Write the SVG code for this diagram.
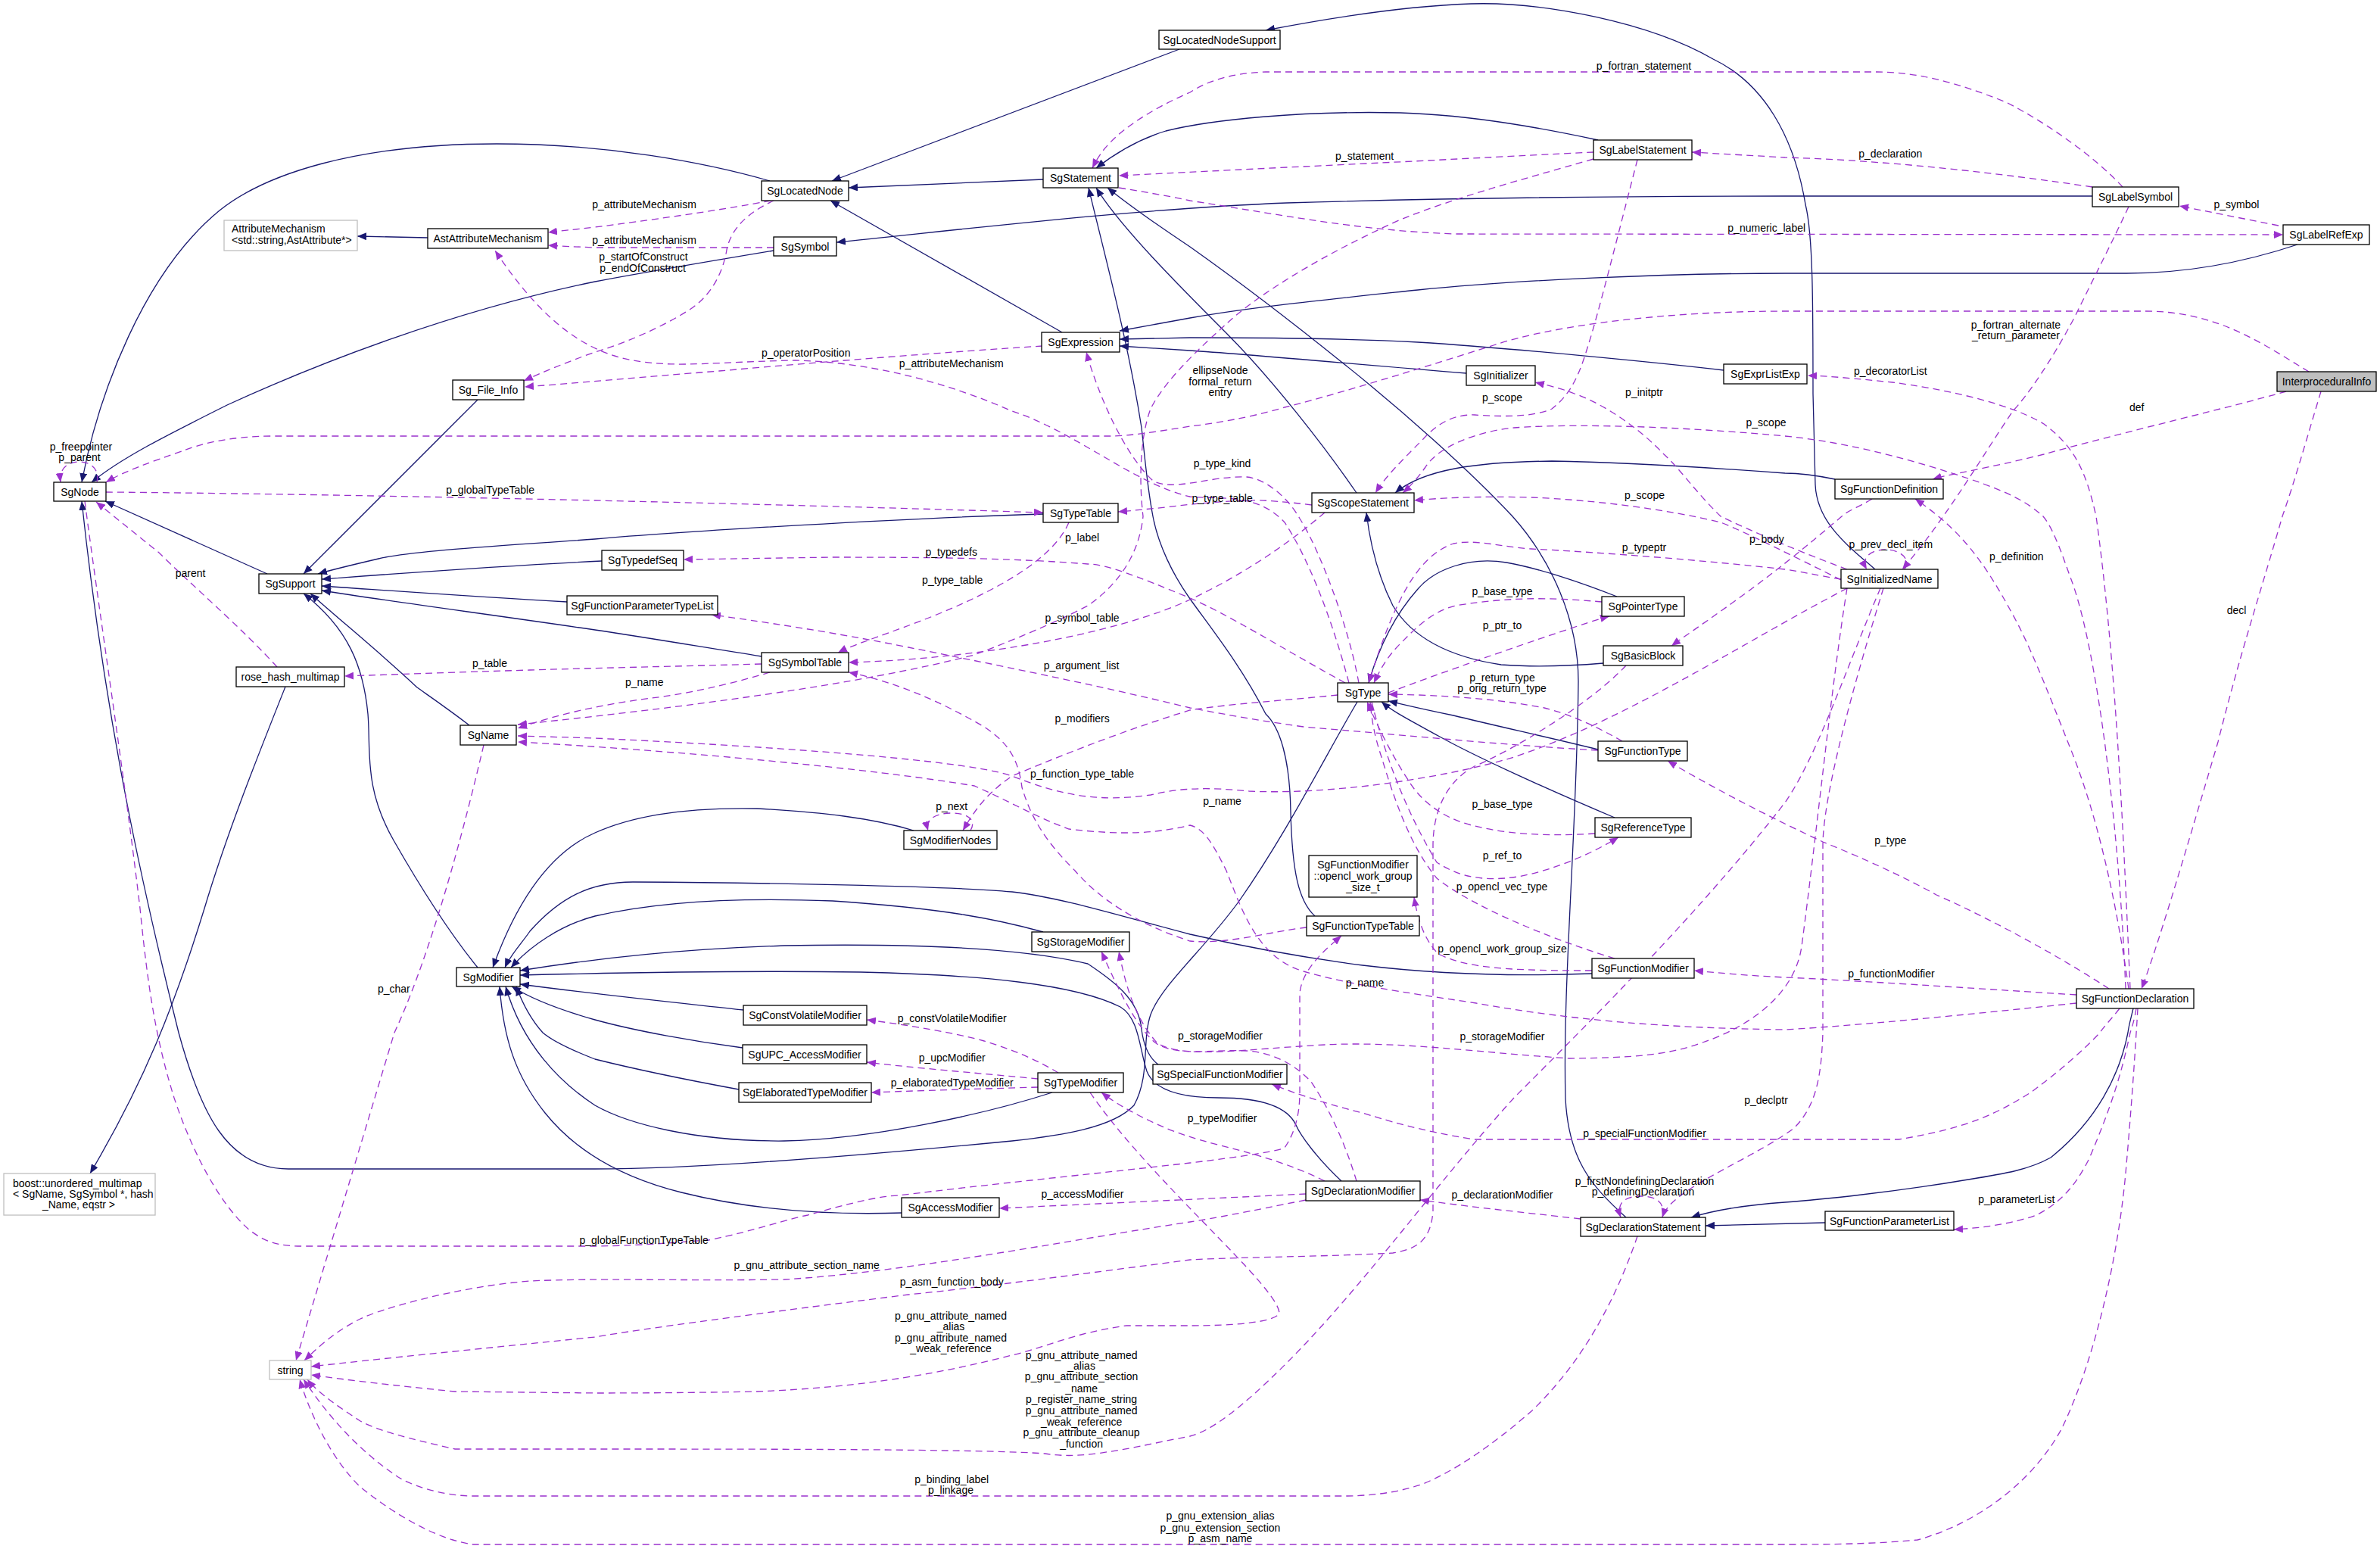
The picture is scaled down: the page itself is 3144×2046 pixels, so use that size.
<svg xmlns="http://www.w3.org/2000/svg" width="3144" height="2046" viewBox="0 0 3144 2046">
<style>
text{font-family:"Liberation Sans",Arial,Helvetica,sans-serif;font-size:14px;fill:#000}
.n rect{fill:#fff;stroke:#000;stroke-width:1.3}
.g rect{fill:#fff;stroke:#bfbfbf;stroke-width:1.3}
.m rect{fill:#bfbfbf;stroke:#000;stroke-width:1.3}
.n text,.g text.c,.m text,.lb text{text-anchor:middle}
.e path{fill:none;stroke:#191970;stroke-width:1.3;marker-end:url(#ah)}
.d path{fill:none;stroke:#9a32cd;stroke-width:1.3;stroke-dasharray:9,6;marker-end:url(#ad)}
</style>
<defs>
<marker id="ah" markerUnits="userSpaceOnUse" markerWidth="13" markerHeight="10" refX="12" refY="5" orient="auto"><path d="M0,0 L12,5 L0,10 z" fill="#191970"/></marker>
<marker id="ad" markerUnits="userSpaceOnUse" markerWidth="13" markerHeight="10" refX="12" refY="5" orient="auto"><path d="M0,0 L12,5 L0,10 z" fill="#9a32cd"/></marker>
</defs>
<rect width="3144" height="2046" fill="#fff"/>
<g id="connectors">
<g class="e">
<path d="M1017,239 C930,214 800,190 656,190 C470,190 350,230 290,278 C190,360 130,520 108,637"/>
<path d="M1022,331 C950,343 850,360 786,372 C600,410 420,480 300,535 C220,575 160,605 121,637"/>
<path d="M353,758 L139,662"/>
<path d="M631,528 L401,758"/>
<path d="M1378,679 C1200,684 900,702 786,712 C650,722 540,728 500,738 C470,745 440,752 420,758"/>
<path d="M795,741 C650,748 520,758 425,765"/>
<path d="M749,795 C620,788 500,779 425,774"/>
<path d="M1006,867 C930,855 860,843 786,832 C650,812 520,795 425,780"/>
<path d="M620,958 C590,935 565,918 551,908 C500,860 450,820 410,784"/>
<path d="M631,1278 C600,1240 560,1180 520,1110 C480,1040 490,990 486,943 C480,880 460,830 401,784"/>
<path d="M377,907 C340,1000 300,1100 270,1200 C230,1330 190,1430 119,1550"/>
<path d="M1793,927 C1750,1000 1700,1100 1637,1190 C1590,1255 1535,1300 1520,1340 C1508,1375 1520,1420 1498,1460 C1470,1490 1400,1500 1337,1507 C1100,1530 900,1544 786,1544 L381,1544 C300,1544 265,1470 236,1364 C190,1180 140,960 108,662"/>
<path d="M1558,65 L1099,239"/>
<path d="M2477,752 C2440,720 2400,690 2398,640 L2395,520 C2395,400 2395,310 2385,270 C2370,180 2330,110 2263,78 C2180,30 2040,2 1943,5 C1850,8 1750,25 1672,40"/>
<path d="M1378,237 L1121,248"/>
<path d="M1403,439 L1097,265"/>
<path d="M565,314 L472,312"/>
<path d="M2111,185 C2050,172 1950,152 1850,149 C1720,146 1600,158 1540,173 C1500,185 1470,205 1448,222"/>
<path d="M1792,651 C1750,590 1680,500 1620,440 C1560,380 1480,300 1448,248"/>
<path d="M2148,1608 C2100,1565 2072,1530 2068,1451 C2064,1300 2083,1100 2085,900 C2085,820 2050,740 1998,682 C1940,620 1850,540 1772,478 C1700,420 1620,360 1572,326 C1530,298 1490,270 1463,248"/>
<path d="M1737,1210 C1715,1190 1707,1150 1705,1073 C1704,1000 1690,960 1672,943 C1640,880 1600,830 1572,791 C1550,760 1530,720 1523,682 C1515,640 1512,600 1508,565 C1490,450 1460,340 1438,248"/>
<path d="M2277,489 C2200,480 2000,460 1873,452 C1760,446 1650,446 1572,446 L1479,448"/>
<path d="M1937,493 C1800,482 1650,468 1572,463 L1479,457"/>
<path d="M3035,323 C2990,338 2909,361 2809,361 L2358,361 C2200,361 2000,370 1873,383 C1750,396 1650,406 1572,420 L1479,437"/>
<path d="M2764,259 L2358,259 C2100,259 1900,262 1700,268 C1500,276 1300,300 1105,320"/>
<path d="M2424,633 C2400,628 2380,625 2358,625 C2250,617 2123,610 2050,609 C1950,610 1880,620 1843,651"/>
<path d="M2118,876 C2070,880 2023,881 1983,878 C1930,870 1870,850 1840,800 C1820,760 1810,720 1805,677"/>
<path d="M2136,788 C2090,770 2040,752 1990,743 C1940,735 1895,752 1873,778 C1840,815 1820,860 1808,902"/>
<path d="M2111,990 C2050,975 1973,958 1920,945 C1880,937 1860,932 1834,926"/>
<path d="M2133,1080 C2050,1045 1950,1000 1900,972 C1860,950 1840,940 1825,927"/>
<path d="M2818,1332 C2815,1345 2812,1355 2811,1364 C2800,1420 2770,1480 2709,1529 C2680,1545 2650,1550 2600,1558 C2500,1575 2400,1585 2358,1588 C2300,1592 2260,1600 2234,1608"/>
<path d="M2411,1615 L2253,1619"/>
<path d="M1207,1097 C1150,1080 1087,1073 1000,1068 C900,1066 830,1080 786,1100 C740,1120 690,1170 651,1278"/>
<path d="M2103,1286 C2000,1290 1900,1287 1800,1275 C1700,1262 1620,1245 1572,1234 C1480,1210 1400,1185 1337,1178 C1250,1170 1000,1166 836,1165 C780,1165 740,1185 700,1230 C690,1245 675,1260 667,1278"/>
<path d="M1378,1231 C1320,1215 1250,1200 1100,1190 C950,1184 850,1195 786,1210 C740,1222 700,1250 675,1278"/>
<path d="M1530,1406 C1515,1395 1510,1375 1508,1360 C1505,1320 1470,1295 1437,1273 C1350,1252 1200,1246 1036,1249 C900,1254 800,1264 687,1282"/>
<path d="M1772,1560 C1740,1530 1718,1500 1712,1486 C1700,1460 1660,1450 1610,1450 C1560,1450 1525,1440 1515,1415 C1505,1385 1505,1345 1480,1330 C1420,1300 1300,1288 1137,1284 C1000,1282 850,1284 687,1288"/>
<path d="M982,1334 C900,1325 800,1315 687,1300"/>
<path d="M981,1384 C920,1376 840,1362 786,1347 C740,1334 700,1318 676,1303"/>
<path d="M976,1439 C900,1425 830,1410 786,1399 C750,1385 730,1375 717,1364 C700,1345 690,1325 682,1303"/>
<path d="M1390,1443 C1300,1472 1150,1505 1036,1507 C920,1508 830,1485 786,1460 C740,1430 690,1380 668,1303"/>
<path d="M1192,1602 C1100,1605 1000,1600 900,1575 C820,1555 760,1520 720,1470 C680,1420 665,1370 660,1303"/>
</g>
<g class="d">
<path d="M128,637 C132,620 120,610 105,610 C88,610 78,620 80,637"/>
<path d="M140,650 C400,652 900,662 1378,677"/>
<path d="M366,881 C320,830 250,770 210,730 L127,663"/>
<path d="M3050,491 C2990,455 2930,411 2834,411 L2358,411 C2200,411 2050,430 1973,456 C1850,495 1750,525 1697,538 C1650,552 1600,560 1572,563 C1530,570 1490,576 1468,576 L361,576 C300,576 260,588 240,596 C200,610 165,622 140,637"/>
<path d="M1018,265 C950,278 850,292 786,300 C760,303 740,305 724,307"/>
<path d="M1022,327 L786,327 C760,326 740,325 724,324"/>
<path d="M1782,902 C1760,820 1730,740 1697,690 C1660,650 1610,660 1572,656 C1500,640 1420,570 1337,543 C1250,505 1150,478 1050,476 C950,478 900,485 850,478 C780,470 720,430 654,331"/>
<path d="M1022,265 C990,280 966,300 960,330 C955,360 940,390 911,409 C870,435 820,455 786,465 C750,478 720,490 692,503"/>
<path d="M1377,457 C1250,465 1087,478 950,490 C850,498 786,504 693,511"/>
<path d="M2105,201 C2000,206 1873,213 1700,221 C1600,226 1520,230 1478,232"/>
<path d="M2804,247 C2770,210 2709,165 2650,135 C2583,108 2530,95 2480,95 L1672,95 C1620,97 1590,110 1572,122 C1530,140 1488,165 1465,190 C1455,200 1448,212 1443,222"/>
<path d="M1478,248 C1520,255 1550,260 1572,265 C1700,285 1800,305 1923,309 L3016,310"/>
<path d="M2764,247 C2650,230 2500,212 2358,208 L2235,201"/>
<path d="M3010,298 L2879,272"/>
<path d="M2812,273 C2790,320 2769,361 2740,420 C2709,478 2680,520 2659,543 C2620,600 2573,682 2513,752"/>
<path d="M2814,1306 C2805,1100 2795,870 2769,682 C2755,620 2740,590 2700,560 C2650,530 2560,513 2500,505 C2450,500 2420,497 2388,496"/>
<path d="M3020,517 C2950,537 2809,570 2700,600 C2620,620 2580,625 2553,633"/>
<path d="M3066,517 C3050,570 3030,640 3015,682 C2990,770 2960,860 2930,980 C2880,1150 2850,1250 2829,1306"/>
<path d="M2812,1306 C2790,1150 2760,1050 2734,986 C2700,900 2680,850 2659,812 C2620,740 2590,700 2530,659"/>
<path d="M2163,211 C2140,300 2110,420 2098,456 C2085,500 2073,522 2050,540 C2023,552 1980,550 1948,548 C1920,547 1898,560 1880,580 C1850,610 1830,630 1817,651"/>
<path d="M2808,1306 C2800,1100 2770,850 2734,760 C2720,720 2710,695 2699,682 C2680,665 2659,652 2600,632 C2540,612 2450,585 2358,576 C2250,566 2100,558 2000,565 C1950,570 1900,590 1883,617 C1870,635 1860,645 1853,651"/>
<path d="M2432,766 C2380,740 2300,700 2273,690 C2200,672 2100,660 2023,657 C1950,655 1900,658 1868,661"/>
<path d="M2440,752 C2380,730 2310,700 2273,682 C2240,650 2220,620 2198,600 C2170,570 2123,535 2080,520 C2060,512 2040,508 2028,505"/>
<path d="M1795,902 C1780,820 1740,720 1717,685 C1700,655 1670,632 1647,630 C1600,628 1550,650 1523,635 C1485,600 1450,520 1435,465"/>
<path d="M1733,667 C1700,663 1670,660 1647,661 C1600,663 1572,666 1540,670 C1510,673 1490,675 1477,676"/>
<path d="M1412,690 C1395,730 1340,770 1237,812 C1180,835 1130,850 1107,862"/>
<path d="M1750,677 C1700,720 1640,760 1572,792 C1480,835 1300,870 1121,875"/>
<path d="M2105,210 C2000,240 1923,261 1850,290 C1722,348 1650,400 1622,426 C1590,455 1540,500 1520,540 C1505,580 1505,640 1510,682 C1505,730 1480,770 1437,800 C1380,830 1300,860 1287,865 C1137,904 900,935 684,957"/>
<path d="M1017,888 C960,905 900,918 860,922 C800,930 740,942 684,962"/>
<path d="M2440,777 C2300,850 2150,950 2000,1000 C1900,1030 1750,1050 1650,1045 C1600,1040 1560,1040 1520,1050 C1450,1060 1400,1050 1337,1025 C1290,1008 1100,990 786,975 L684,972"/>
<path d="M2743,1325 C2600,1340 2450,1355 2358,1360 C2200,1358 2073,1347 1950,1325 C1850,1310 1780,1300 1722,1283 C1660,1265 1640,1200 1620,1150 C1600,1110 1590,1095 1572,1090 C1530,1100 1488,1104 1412,1095 C1370,1080 1337,1060 1287,1038 C1150,1015 900,992 684,980"/>
<path d="M112,662 C130,800 165,1030 185,1200 C195,1300 205,1370 230,1450 C260,1540 300,1600 330,1625 C350,1640 365,1646 400,1646 L786,1646 C860,1645 900,1640 936,1638 C1000,1625 1040,1610 1067,1605 C1120,1590 1160,1580 1187,1579 C1300,1565 1450,1550 1572,1536 C1640,1528 1690,1520 1697,1516 C1715,1490 1717,1460 1717,1442 L1717,1312 C1720,1280 1750,1255 1772,1236"/>
<path d="M1767,918 C1700,925 1620,930 1572,938 C1500,960 1420,990 1337,1025 C1300,1050 1285,1075 1272,1097"/>
<path d="M1282,1097 C1290,1084 1280,1074 1257,1074 C1235,1074 1222,1083 1226,1097"/>
<path d="M1777,902 C1700,860 1620,810 1572,790 C1500,760 1460,745 1437,745 C1350,738 1250,736 1100,736 L903,739"/>
<path d="M2111,991 C2000,985 1900,975 1722,960 C1650,950 1600,940 1572,935 C1450,905 1300,875 1200,855 C1100,835 1000,820 940,812"/>
<path d="M1726,1225 C1680,1230 1620,1248 1572,1243 C1500,1220 1450,1185 1420,1150 C1380,1110 1362,1080 1350,1040 C1345,1000 1330,980 1300,960 C1240,925 1180,900 1121,888"/>
<path d="M1006,877 C900,880 800,882 700,885 C600,888 520,891 455,893"/>
<path d="M2133,1266 C2073,1248 1953,1204 1898,1160 C1862,1117 1840,1050 1825,1000 C1815,970 1812,950 1810,927"/>
<path d="M2103,1282 C2000,1282 1940,1280 1900,1260 C1880,1240 1872,1210 1868,1185"/>
<path d="M2143,979 C2110,960 2073,943 2040,935 C1973,922 1900,918 1834,917"/>
<path d="M2116,795 C2060,790 2000,787 1923,800 C1890,808 1870,830 1850,850 C1835,865 1825,880 1815,902"/>
<path d="M1834,915 C1900,890 2000,855 2060,835 C2090,825 2110,818 2126,814"/>
<path d="M2432,765 C2400,760 2380,755 2358,752 C2250,740 2120,730 2023,725 C1980,722 1950,712 1920,718 C1870,735 1840,800 1808,902"/>
<path d="M2473,659 C2455,670 2440,675 2433,682 C2400,710 2370,735 2354,747 C2300,790 2240,830 2208,853"/>
<path d="M2516,752 C2525,738 2510,726 2491,726 C2470,726 2458,738 2466,752"/>
<path d="M1812,927 C1825,980 1850,1060 1898,1139 C1930,1160 1960,1162 1988,1160 C2030,1157 2090,1135 2138,1106"/>
<path d="M2107,1101 C2060,1104 2000,1104 1948,1091 C1900,1080 1873,1052 1860,1030 C1840,1000 1820,960 1806,927"/>
<path d="M1371,1425 C1300,1418 1200,1410 1145,1403"/>
<path d="M1371,1436 C1300,1438 1200,1441 1151,1443"/>
<path d="M1398,1417 C1370,1400 1337,1386 1300,1375 C1260,1364 1200,1354 1145,1347"/>
<path d="M1750,1560 C1710,1540 1672,1529 1640,1520 C1600,1510 1572,1503 1540,1490 C1510,1477 1480,1462 1455,1443"/>
<path d="M1725,1577 C1600,1583 1450,1590 1320,1596"/>
<path d="M1792,1560 C1780,1520 1760,1470 1732,1429 C1710,1405 1680,1390 1647,1388 C1600,1386 1560,1395 1530,1380 C1500,1360 1470,1290 1455,1257"/>
<path d="M2440,777 C2420,900 2400,1100 2380,1250 C2370,1320 2300,1360 2249,1377 C2200,1395 2150,1397 2073,1398 C1950,1390 1850,1375 1750,1380 C1650,1385 1560,1400 1528,1377 C1495,1340 1485,1290 1478,1257"/>
<path d="M2800,1332 C2790,1345 2780,1355 2774,1364 C2740,1400 2700,1430 2684,1442 C2640,1470 2600,1490 2508,1505 L1948,1505 C1880,1495 1822,1477 1800,1470 C1740,1455 1700,1440 1680,1432"/>
<path d="M2088,1610 C2000,1600 1950,1595 1876,1585"/>
<path d="M2196,1608 C2200,1590 2190,1580 2168,1580 C2145,1580 2135,1590 2141,1608"/>
<path d="M2488,777 C2450,900 2408,1050 2408,1117 L2408,1364 C2406,1420 2400,1460 2370,1490 C2330,1520 2260,1550 2223,1577 C2210,1587 2200,1595 2196,1608"/>
<path d="M2743,1314 C2600,1305 2450,1295 2358,1291 C2300,1288 2270,1285 2238,1282"/>
<path d="M2786,1306 C2700,1250 2600,1200 2558,1182 C2500,1150 2440,1125 2408,1112 C2350,1085 2270,1045 2203,1005"/>
<path d="M2822,1332 C2820,1345 2817,1355 2814,1364 C2800,1430 2784,1473 2760,1530 C2740,1570 2719,1590 2690,1605 C2659,1616 2620,1622 2581,1624"/>
<path d="M2824,1332 C2820,1400 2815,1470 2809,1538 C2800,1650 2770,1790 2724,1886 C2690,1950 2620,2010 2533,2034 C2470,2040 2400,2040 2358,2040 L626,2040 C580,2035 520,2000 476,1964 C440,1930 410,1870 396,1822"/>
<path d="M2163,1633 C2140,1700 2100,1790 2023,1864 C1970,1910 1923,1942 1880,1960 C1850,1970 1822,1975 1780,1976 L626,1976 C580,1976 540,1960 526,1951 C480,1920 440,1880 401,1822"/>
<path d="M2484,777 C2440,880 2400,1000 2358,1060 C2250,1200 2100,1350 2000,1450 C1900,1560 1800,1700 1700,1800 C1640,1860 1600,1890 1572,1897 C1530,1905 1500,1912 1480,1915 C1440,1922 1412,1925 1380,1920 C1300,1914 1000,1914 786,1914 L601,1914 C540,1900 500,1890 476,1877 C450,1860 420,1840 406,1822"/>
<path d="M2148,879 C2100,930 2000,990 1948,1012 C1905,1035 1893,1080 1893,1117 L1893,1600 C1890,1640 1870,1650 1840,1655 C1750,1660 1650,1660 1572,1664 C1450,1680 1300,1700 1200,1710 C1000,1735 850,1755 786,1766 C600,1785 500,1795 411,1805"/>
<path d="M1440,1443 C1520,1560 1690,1700 1690,1735 C1680,1750 1600,1751 1572,1751 L1488,1751 C1420,1760 1380,1780 1337,1790 C1250,1812 1150,1832 1000,1838 C900,1840 800,1840 786,1840 L601,1838 C520,1830 460,1823 411,1816"/>
<path d="M1725,1585 C1650,1600 1600,1610 1572,1614 C1400,1640 1200,1680 1036,1690 C900,1692 786,1688 700,1692 C600,1700 500,1730 476,1742 C440,1760 420,1780 402,1797"/>
<path d="M639,984 C600,1150 560,1280 521,1364 C480,1500 420,1700 391,1797"/>
</g>
</g>
<g id="edge-labels" class="lb">
<text x="107" y="594.6">p_freepointer</text>
<text x="105" y="609.3">p_parent</text>
<text x="647.6" y="651.5">p_globalTypeTable</text>
<text x="851" y="275.4">p_attributeMechanism</text>
<text x="851" y="321.5">p_attributeMechanism</text>
<text x="850" y="343.7">p_startOfConstruct</text>
<text x="849" y="358.5">p_endOfConstruct</text>
<text x="1064.7" y="470.7">p_operatorPosition</text>
<text x="1256.7" y="485.4">p_attributeMechanism</text>
<text x="2171.5" y="91.5">p_fortran_statement</text>
<text x="1802.6" y="210.7">p_statement</text>
<text x="2333.7" y="306.3">p_numeric_label</text>
<text x="1612" y="494">ellipseNode</text>
<text x="1612" y="509.3">formal_return</text>
<text x="1612" y="523.3">entry</text>
<text x="1984.5" y="529.8">p_scope</text>
<text x="2172" y="523.3">p_initptr</text>
<text x="2333" y="562.8">p_scope</text>
<text x="1614.6" y="617.2">p_type_kind</text>
<text x="1614.6" y="663.3">p_type_table</text>
<text x="2172.5" y="659.3">p_scope</text>
<text x="2497.3" y="207.6">p_declaration</text>
<text x="2954.5" y="275.4">p_symbol</text>
<text x="2663" y="433.7">p_fortran_alternate</text>
<text x="2663" y="447.6">_return_parameter</text>
<text x="2497.3" y="494.6">p_decoratorList</text>
<text x="2822.7" y="543.3">def</text>
<text x="251.6" y="761.8">parent</text>
<text x="647" y="881.3">p_table</text>
<text x="520.3" y="1311.3">p_char</text>
<text x="1429.6" y="714.8">p_label</text>
<text x="1256.7" y="733.5">p_typedefs</text>
<text x="1258.2" y="770.5">p_type_table</text>
<text x="1429.6" y="821.3">p_symbol_table</text>
<text x="1428.6" y="883.5">p_argument_list</text>
<text x="851.2" y="905.7">p_name</text>
<text x="1429.6" y="953.5">p_modifiers</text>
<text x="1429.6" y="1027.4">p_function_type_table</text>
<text x="1257.2" y="1069.6">p_next</text>
<text x="1257.7" y="1349.6">p_constVolatileModifier</text>
<text x="2333.9" y="717.4">p_body</text>
<text x="2172" y="727.9">p_typeptr</text>
<text x="1984.5" y="786.1">p_base_type</text>
<text x="1984.5" y="831">p_ptr_to</text>
<text x="1984.5" y="900">p_return_type</text>
<text x="1984" y="914.4">p_orig_return_type</text>
<text x="1614.6" y="1062.7">p_name</text>
<text x="1984.5" y="1066.6">p_base_type</text>
<text x="1984.5" y="1134.8">p_ref_to</text>
<text x="1984" y="1175.7">p_opencl_vec_type</text>
<text x="1984.5" y="1258.3">p_opencl_work_group_size</text>
<text x="1803" y="1302.7">p_name</text>
<text x="1612" y="1373">p_storageModifier</text>
<text x="1984.5" y="1374.2">p_storageModifier</text>
<text x="2497.8" y="723.5">p_prev_decl_item</text>
<text x="2663.8" y="739.6">p_definition</text>
<text x="2954.5" y="810.5">decl</text>
<text x="2497.3" y="1114.8">p_type</text>
<text x="2498.4" y="1290.5">p_functionModifier</text>
<text x="850.7" y="1643">p_globalFunctionTypeTable</text>
<text x="1257.7" y="1401.6">p_upcModifier</text>
<text x="1257.7" y="1434.7">p_elaboratedTypeModifier</text>
<text x="1430" y="1582">p_accessModifier</text>
<text x="1065.7" y="1675.5">p_gnu_attribute_section_name</text>
<text x="1257.2" y="1697.7">p_asm_function_body</text>
<text x="1256" y="1742.5">p_gnu_attribute_named</text>
<text x="1256" y="1757.3">_alias</text>
<text x="1256" y="1771.6">p_gnu_attribute_named</text>
<text x="1256" y="1786.4">_weak_reference</text>
<text x="1428.6" y="1794.7">p_gnu_attribute_named</text>
<text x="1428.6" y="1809.4">_alias</text>
<text x="1428.6" y="1823.3">p_gnu_attribute_section</text>
<text x="1428.6" y="1838.6">_name</text>
<text x="1428.6" y="1853.3">p_register_name_string</text>
<text x="1428.6" y="1867.7">p_gnu_attribute_named</text>
<text x="1428.6" y="1882.5">_weak_reference</text>
<text x="1428.6" y="1897.3">p_gnu_attribute_cleanup</text>
<text x="1428.6" y="1911.6">_function</text>
<text x="1257.2" y="1958.6">p_binding_label</text>
<text x="1256" y="1973.3">p_linkage</text>
<text x="1612" y="2007.3">p_gnu_extension_alias</text>
<text x="1612" y="2022.5">p_gnu_extension_section</text>
<text x="1612" y="2037.3">p_asm_name</text>
<text x="1614.6" y="1482">p_typeModifier</text>
<text x="2172.5" y="1502">p_specialFunctionModifier</text>
<text x="1984.5" y="1583.3">p_declarationModifier</text>
<text x="2172.5" y="1565">p_firstNondefiningDeclaration</text>
<text x="2170.5" y="1579.4">p_definingDeclaration</text>
<text x="2333" y="1457.7">p_declptr</text>
<text x="2663.8" y="1589.4">p_parameterList</text>
</g>
<g id="nodes">
<g id="SgLocatedNodeSupport" class="n"><rect x="1531" y="40" width="160" height="25"/><text x="1611" y="57.5">SgLocatedNodeSupport</text></g>
<g id="SgLocatedNode" class="n"><rect x="1006" y="239" width="115" height="26"/><text x="1063.5" y="257">SgLocatedNode</text></g>
<g id="SgStatement" class="n"><rect x="1378" y="222" width="99" height="26"/><text x="1427.5" y="240">SgStatement</text></g>
<g id="SgLabelStatement" class="n"><rect x="2105" y="185" width="130" height="26"/><text x="2170" y="203">SgLabelStatement</text></g>
<g id="SgSymbol" class="n"><rect x="1022" y="313" width="83" height="25"/><text x="1063.5" y="330.5">SgSymbol</text></g>
<g id="AttributeMechanism" class="g"><rect x="296" y="291" width="176" height="40"/><text x="306" y="307">AttributeMechanism</text><text x="306" y="322">&lt;std::string,AstAttribute*&gt;</text></g>
<g id="AstAttributeMechanism" class="n"><rect x="565" y="302" width="159" height="26"/><text x="644.5" y="320">AstAttributeMechanism</text></g>
<g id="SgLabelSymbol" class="n"><rect x="2764" y="247" width="114" height="26"/><text x="2821" y="265">SgLabelSymbol</text></g>
<g id="SgLabelRefExp" class="n"><rect x="3016" y="297" width="114" height="26"/><text x="3073" y="315">SgLabelRefExp</text></g>
<g id="SgExpression" class="n"><rect x="1376" y="439" width="103" height="26"/><text x="1427.5" y="457">SgExpression</text></g>
<g id="Sg_File_Info" class="n"><rect x="598" y="502" width="94" height="26"/><text x="645" y="520">Sg_File_Info</text></g>
<g id="SgInitializer" class="n"><rect x="1937" y="483" width="91" height="26"/><text x="1982.5" y="501">SgInitializer</text></g>
<g id="SgExprListExp" class="n"><rect x="2277" y="481" width="110" height="26"/><text x="2332" y="499">SgExprListExp</text></g>
<g id="InterproceduralInfo" class="m"><rect x="3008" y="491" width="131" height="26"/><text x="3073.5" y="509">InterproceduralInfo</text></g>
<g id="SgNode" class="n"><rect x="71" y="637" width="69" height="25"/><text x="105.5" y="654.5">SgNode</text></g>
<g id="SgFunctionDefinition" class="n"><rect x="2424" y="633" width="143" height="26"/><text x="2495.5" y="651">SgFunctionDefinition</text></g>
<g id="SgScopeStatement" class="n"><rect x="1733" y="651" width="135" height="26"/><text x="1800.5" y="669">SgScopeStatement</text></g>
<g id="SgTypeTable" class="n"><rect x="1378" y="665" width="99" height="25"/><text x="1427.5" y="682.5">SgTypeTable</text></g>
<g id="SgTypedefSeq" class="n"><rect x="795" y="727" width="108" height="26"/><text x="849" y="745">SgTypedefSeq</text></g>
<g id="SgSupport" class="n"><rect x="342" y="758" width="83" height="26"/><text x="383.5" y="776">SgSupport</text></g>
<g id="SgInitializedName" class="n"><rect x="2432" y="752" width="128" height="25"/><text x="2496" y="769.5">SgInitializedName</text></g>
<g id="SgFunctionParameterTypeList" class="n"><rect x="749" y="787" width="199" height="25"/><text x="848.5" y="804.5">SgFunctionParameterTypeList</text></g>
<g id="SgPointerType" class="n"><rect x="2116" y="788" width="109" height="26"/><text x="2170.5" y="806">SgPointerType</text></g>
<g id="SgBasicBlock" class="n"><rect x="2118" y="853" width="105" height="26"/><text x="2170.5" y="871">SgBasicBlock</text></g>
<g id="SgSymbolTable" class="n"><rect x="1006" y="862" width="115" height="26"/><text x="1063.5" y="880">SgSymbolTable</text></g>
<g id="rose_hash_multimap" class="n"><rect x="312" y="881" width="143" height="26"/><text x="383.5" y="899">rose_hash_multimap</text></g>
<g id="SgType" class="n"><rect x="1767" y="902" width="67" height="25"/><text x="1800.5" y="919.5">SgType</text></g>
<g id="SgName" class="n"><rect x="608" y="958" width="74" height="26"/><text x="645" y="976">SgName</text></g>
<g id="SgFunctionType" class="n"><rect x="2111" y="979" width="118" height="26"/><text x="2170" y="997">SgFunctionType</text></g>
<g id="SgReferenceType" class="n"><rect x="2107" y="1080" width="127" height="26"/><text x="2170.5" y="1098">SgReferenceType</text></g>
<g id="SgModifierNodes" class="n"><rect x="1194" y="1097" width="123" height="25"/><text x="1255.5" y="1114.5">SgModifierNodes</text></g>
<g id="SgFunctionModifier_opencl_work_group_size_t" class="n"><rect x="1729" y="1130" width="143" height="55"/><text x="1800.5" y="1147">SgFunctionModifier</text><text x="1800.5" y="1162">::opencl_work_group</text><text x="1800.5" y="1177">_size_t</text></g>
<g id="SgFunctionTypeTable" class="n"><rect x="1726" y="1210" width="149" height="26"/><text x="1800.5" y="1228">SgFunctionTypeTable</text></g>
<g id="SgStorageModifier" class="n"><rect x="1363" y="1231" width="129" height="26"/><text x="1427.5" y="1249">SgStorageModifier</text></g>
<g id="SgFunctionModifier" class="n"><rect x="2103" y="1266" width="135" height="26"/><text x="2170.5" y="1284">SgFunctionModifier</text></g>
<g id="SgModifier" class="n"><rect x="603" y="1278" width="84" height="25"/><text x="645" y="1295.5">SgModifier</text></g>
<g id="SgFunctionDeclaration" class="n"><rect x="2743" y="1306" width="155" height="26"/><text x="2820.5" y="1324">SgFunctionDeclaration</text></g>
<g id="SgConstVolatileModifier" class="n"><rect x="982" y="1328" width="163" height="26"/><text x="1063.5" y="1346">SgConstVolatileModifier</text></g>
<g id="SgUPC_AccessModifier" class="n"><rect x="981" y="1380" width="164" height="25"/><text x="1063" y="1397.5">SgUPC_AccessModifier</text></g>
<g id="SgSpecialFunctionModifier" class="n"><rect x="1523" y="1406" width="177" height="26"/><text x="1611.5" y="1424">SgSpecialFunctionModifier</text></g>
<g id="SgTypeModifier" class="n"><rect x="1371" y="1417" width="113" height="26"/><text x="1427.5" y="1435">SgTypeModifier</text></g>
<g id="SgElaboratedTypeModifier" class="n"><rect x="976" y="1430" width="175" height="26"/><text x="1063.5" y="1448">SgElaboratedTypeModifier</text></g>
<g id="boost_unordered_multimap" class="g"><rect x="5" y="1550" width="200" height="55"/><text x="17" y="1568">boost::unordered_multimap</text><text x="17" y="1582">&lt; SgName, SgSymbol *, hash</text><text class="c" x="104" y="1596">_Name, eqstr &gt;</text></g>
<g id="SgDeclarationModifier" class="n"><rect x="1725" y="1560" width="151" height="26"/><text x="1800.5" y="1578">SgDeclarationModifier</text></g>
<g id="SgAccessModifier" class="n"><rect x="1191" y="1582" width="129" height="26"/><text x="1255.5" y="1600">SgAccessModifier</text></g>
<g id="SgFunctionParameterList" class="n"><rect x="2411" y="1600" width="170" height="25"/><text x="2496" y="1617.5">SgFunctionParameterList</text></g>
<g id="SgDeclarationStatement" class="n"><rect x="2088" y="1608" width="165" height="25"/><text x="2170.5" y="1625.5">SgDeclarationStatement</text></g>
<g id="string" class="g"><rect x="356" y="1797" width="55" height="25"/><text class="c" x="383.5" y="1814.5">string</text></g>
</g>
</svg>
